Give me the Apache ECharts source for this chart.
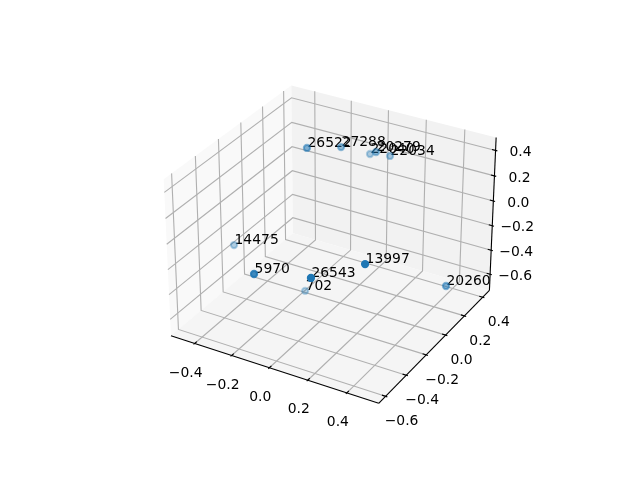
<!DOCTYPE html>
<html><head><meta charset="utf-8"><style>html,body{margin:0;padding:0;background:#fff}#c{width:640px;height:480px}</style>
<script src="https://cdn.jsdelivr.net/npm/echarts@6/dist/echarts.min.js"></script></head><body><div id="c"></div>
<script>
const xTicks=[-0.4,-0.2,0,0.2,0.4];
const yTicks=[-0.6,-0.4,-0.2,0,0.2,0.4];
const zTicks=[-0.6,-0.4,-0.2,0,0.2,0.4];
const xLim=[-0.53,0.56];
const yLim=[-0.665,0.475];
const zLim=[-0.735,0.5];
const labels=['26522','27288','22040','20279','22034','14475','5970','26543','702','13997','20260'];
const xs=[-0.218,-0.131,-0.062,0.016,0.045,-0.511,-0.133,0.162,-0.180,0.352,0.496];
const ys=[0.076,0.248,0.41,0.323,0.411,-0.12,-0.562,-0.563,-0.018,-0.412,0.123];
const zs=[0.373,0.302,0.168,0.272,0.194,-0.395,-0.132,-0.028,-0.704,0.052,-0.459];

const S=2083,cx=333,cy=237,dist=10,bx=1.14286,bz=0.85714;
const U=[.8660254,.5,0],V=[-.25,.4330127,.8660254],W=[.4330127,-.75,.5];
function nx(x){return (x-xLim[0])/(xLim[1]-xLim[0])*bx-bx/2}
function ny(y){return (y-yLim[0])/(yLim[1]-yLim[0])*bx-bx/2}
function nz(z){return (z-zLim[0])/(zLim[1]-zLim[0])*bz-bz/2}
function proj(x,y,z){const p=[nx(x),ny(y),nz(z)];const dot=a=>a[0]*p[0]+a[1]*p[1]+a[2]*p[2];const d=dot(W);const k=1/(dist-d);return [cx+S*dot(U)*k,cy-S*dot(V)*k,d]}
const [x0,x1]=xLim,[y0,y1]=yLim,[z0,z1]=zLim;
const panes=[{c:'#f9f9f9',p:[[x0,y0,z0],[x0,y1,z0],[x0,y1,z1],[x0,y0,z1]]},{c:'#f2f2f2',p:[[x0,y1,z0],[x1,y1,z0],[x1,y1,z1],[x0,y1,z1]]},{c:'#f5f5f5',p:[[x0,y0,z0],[x1,y0,z0],[x1,y1,z0],[x0,y1,z0]]}];
const grids=[];
xTicks.forEach(t=>grids.push([[t,y0,z0],[t,y1,z0],[t,y1,z1]]));
yTicks.forEach(t=>grids.push([[x1,t,z0],[x0,t,z0],[x0,t,z1]]));
zTicks.forEach(t=>grids.push([[x0,y0,t],[x0,y1,t],[x1,y1,t]]));
const axes=[[[x0,y0,z0],[x1,y0,z0]],[[x1,y0,z0],[x1,y1,z0]],[[x1,y1,z0],[x1,y1,z1]]];
const dy=(y1-y0)/12,dx=(x1-x0)/12;
const ticks=[];
xTicks.forEach(t=>ticks.push([[t,y0+.2*dy,z0],[t,y0-.1*dy,z0]]));
yTicks.forEach(t=>ticks.push([[x1-.2*dx,t,z0],[x1+.1*dx,t,z0]]));
zTicks.forEach(t=>ticks.push([[x1-.2*dx,y1,t],[x1+.1*dx,y1,t]]));
const fmt=t=>t.toFixed(1).replace('-','\u2212');
const tl=[];
xTicks.forEach(t=>{const p=proj(t,y0,z0);tl.push([p[0]-9,p[1]+29.5,fmt(t)])});
yTicks.forEach(t=>{const p=proj(x1,t,z0);tl.push([p[0]+16,p[1]+25.5,fmt(t)])});
zTicks.forEach(t=>{const p=proj(x1,y1,t);tl.push([p[0]+25,p[1]+2,fmt(t)])});
const pts=xs.map((x,i)=>({p:proj(x,ys[i],zs[i]),l:labels[i]}));
const dv=pts.map(o=>o.p[2]),dn=Math.min(...dv),dm=Math.max(...dv);
const sorted=pts.slice().sort((a,b)=>a.p[2]-b.p[2]);
const F='13.9px "DejaVu Sans"';
const poly=(list,color,w)=>({type:'custom',coordinateSystem:'cartesian2d',silent:true,animation:false,clip:false,data:list.map((_,i)=>[i]),encode:{x:0,y:0},renderItem:(pr,api)=>({type:'polyline',shape:{points:list[pr.dataIndex].map(q=>{const p=proj(q[0],q[1],q[2]);return api.coord([p[0],p[1]])})},style:{stroke:color,lineWidth:w,fill:null}})});
const text=(list,align,off)=>({type:'custom',coordinateSystem:'cartesian2d',silent:true,animation:false,clip:false,data:list.map((_,i)=>[i]),encode:{x:0,y:0},renderItem:(pr,api)=>{const q=list[pr.dataIndex],c=api.coord([q[0],q[1]]);return {type:'text',style:{text:q[2],x:c[0],y:c[1]+off,font:F,fill:'#000',align:align,verticalAlign:'middle'}}}});
const chart=echarts.init(document.getElementById('c'),null,{renderer:'canvas'});
chart.setOption({animation:false,backgroundColor:'#fff',grid:{left:0,right:0,top:0,bottom:0},
xAxis:{type:'value',min:0,max:640,show:false},yAxis:{type:'value',min:0,max:480,inverse:true,show:false},
series:[
{type:'custom',coordinateSystem:'cartesian2d',silent:true,animation:false,clip:false,data:panes.map((_,i)=>[i]),encode:{x:0,y:0},renderItem:(pr,api)=>({type:'polygon',shape:{points:panes[pr.dataIndex].p.map(q=>{const p=proj(q[0],q[1],q[2]);return api.coord([p[0],p[1]])})},style:{fill:panes[pr.dataIndex].c}})},
poly(grids,'#b0b0b0',1.11),poly(axes,'#000',1.11),poly(ticks,'#000',1.11),
text(tl,'center',0),
{type:'scatter',silent:true,animation:false,clip:false,symbol:'circle',symbolSize:6.2,data:sorted.map(o=>({value:[o.p[0],o.p[1]],itemStyle:{color:'#1f77b4',borderColor:'#1f77b4',borderWidth:2.08,opacity:1-.7*(dm-o.p[2])/(dm-dn)}}))},
text(pts.map(o=>[o.p[0]+.5,o.p[1],o.l]),'left',-4.5)
]});
</script></body></html>
